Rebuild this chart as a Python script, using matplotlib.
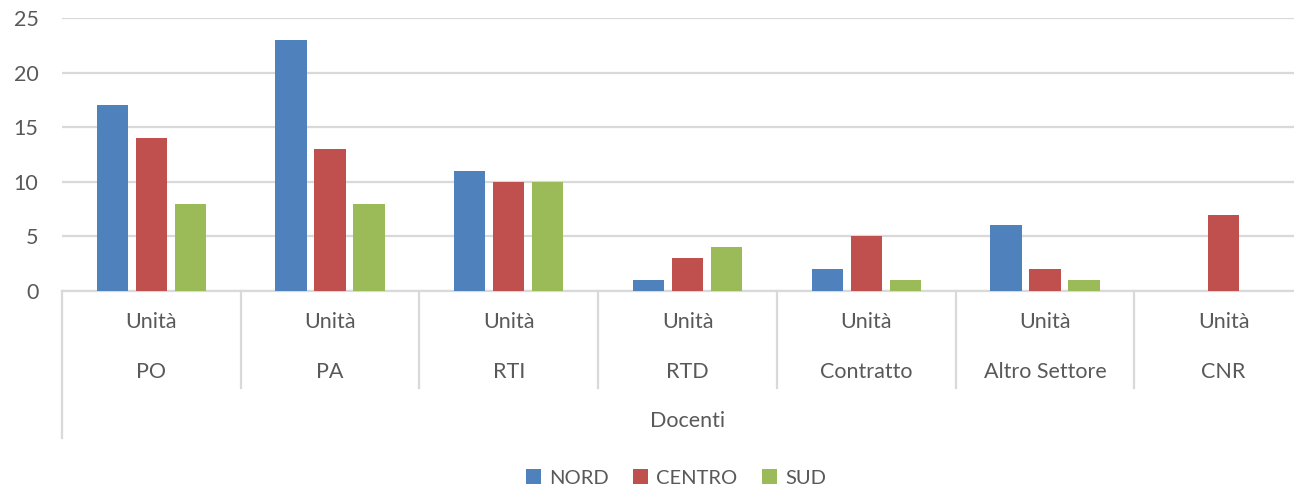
import matplotlib
matplotlib.use("Agg")
import matplotlib.pyplot as plt
import matplotlib.transforms as mtransforms
import numpy as np

plt.rcParams['font.family'] = ['Lato', 'DejaVu Sans']

categories = ["PO", "PA", "RTI", "RTD", "Contratto", "Altro Settore", "CNR"]
sub_label = "Unità"
group_label = "Docenti"
series_names = ["NORD", "CENTRO", "SUD"]
nord = [17, 23, 11, 1, 2, 6, 0]
centro = [14, 13, 10, 3, 5, 2, 7]
sud = [8, 8, 10, 4, 1, 1, 0]
colors = ["#4F81BD", "#C0504D", "#9BBB59"]
text_col = "#595959"
grid_col = "#D9D9D9"
fs = 15.5

W, H = 1294, 492
fig = plt.figure(figsize=(W / 100, H / 100), dpi=100)
# plot area: left 62px, right 1313px (runs past the image edge), top 18px, bottom 291px
ax = fig.add_axes([62 / W, (H - 291) / H, (1313 - 62) / W, 273 / H])

x = np.arange(len(categories))
bw = 0.175
step = 0.218
for i, (name, vals) in enumerate(zip(series_names, [nord, centro, sud])):
    ax.bar(x + (i - 1) * step, vals, width=bw, color=colors[i], label=name,
           linewidth=0, zorder=3)

ax.set_xlim(-0.5, len(categories) - 0.5)
ax.set_ylim(0, 25)
ax.set_yticks(range(0, 26, 5))
ax.yaxis.grid(True, color=grid_col, linewidth=1.6, zorder=0)
ax.set_axisbelow(True)
for s in ["top", "right", "left"]:
    ax.spines[s].set_visible(False)
ax.spines["bottom"].set_color(grid_col)
ax.spines["bottom"].set_linewidth(1.6)
ax.tick_params(axis="y", length=0, pad=17, labelsize=fs, labelcolor=text_col)
ax.set_xticks([])

ax_h = 273.0
trans = mtransforms.blended_transform_factory(ax.transData, ax.transAxes)
# separators between groups
for b in np.arange(0.5, len(categories) - 0.5, 1.0):
    ax.plot([b, b], [0, -97 / ax_h], transform=trans, color=grid_col,
            linewidth=1.6, clip_on=False)
ax.plot([-0.5, -0.5], [0, -147 / ax_h], transform=trans, color=grid_col,
        linewidth=1.6, clip_on=False)

for xi, cat in zip(x, categories):
    ax.text(xi, -31 / ax_h, sub_label, transform=trans, ha="center", va="center",
            fontsize=fs, color=text_col)
    ax.text(xi, -81 / ax_h, cat, transform=trans, ha="center", va="center",
            fontsize=fs, color=text_col)
ax.text(0.5, -130 / ax_h, group_label, transform=ax.transAxes, ha="center",
        va="center", fontsize=fs, color=text_col)

fig.legend(loc="center", bbox_to_anchor=(676 / W, 1 - 478 / H), ncol=3,
           frameon=False, fontsize=14.5, labelcolor=text_col, handlelength=0.75,
           handleheight=0.75, handletextpad=0.4, columnspacing=1.2)

fig.savefig("out.png", dpi=100)
